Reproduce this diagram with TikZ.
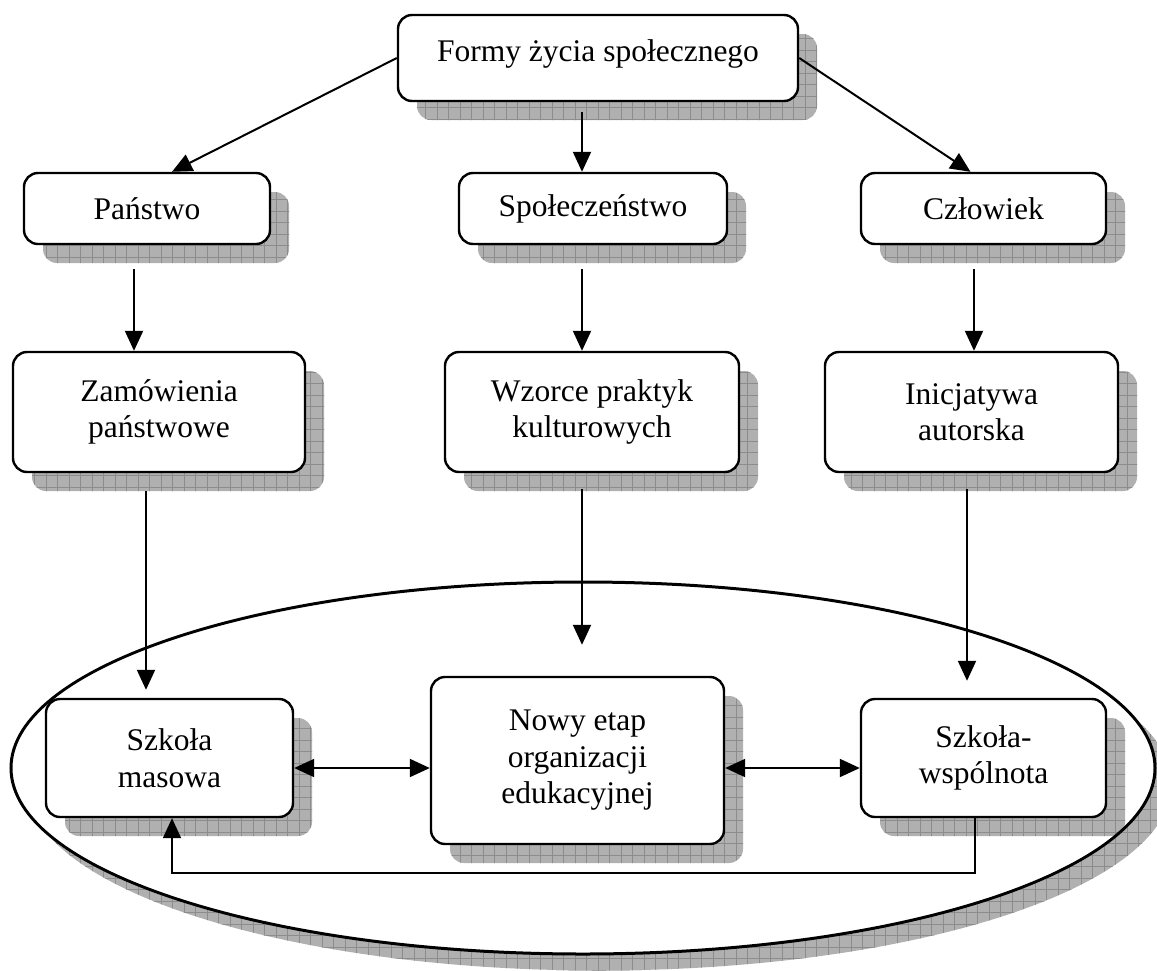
\documentclass[tikz,border=0pt]{standalone}
\usepackage{fontspec}
\setmainfont{Liberation Serif}
\usepackage{tikz}
\usetikzlibrary{shapes.geometric,arrows.meta,positioning}
\usetikzlibrary{shadows,patterns}

\pgfdeclarepatternformonly{kratka}{\pgfqpoint{-1pt}{-1pt}}{\pgfqpoint{13pt}{13pt}}{\pgfqpoint{11.5pt}{11.5pt}}{%
  \pgfsetlinewidth{0.8pt}
  \pgfpathmoveto{\pgfqpoint{0pt}{0pt}}\pgfpathlineto{\pgfqpoint{11.6pt}{0pt}}
  \pgfpathmoveto{\pgfqpoint{0pt}{0pt}}\pgfpathlineto{\pgfqpoint{0pt}{11.6pt}}
  \pgfusepath{stroke}}

\tikzset{
  cien/.style={drop shadow={shadow xshift=#1, shadow yshift=-#1, opacity=1, fill=gray!62},
               drop shadow={shadow xshift=#1, shadow yshift=-#1, opacity=1, pattern=kratka, pattern color=gray!90}},
  blok/.style={draw, line width=2.4pt, rounded corners=14pt, fill=white, inner sep=0pt,
               font=\fontsize{31.5}{36.5}\selectfont, align=center, cien=19pt},
  strzalka/.style={->, line width=2pt},
}

\begin{document}
\begin{tikzpicture}[x=1pt, y=-1pt, >={Triangle[length=20pt,width=18pt]}]
				\useasboundingbox (0,0) rectangle (1157,970);
				% ellipse (shadow and white inside)
				\node[ellipse, draw, line width=2pt, fill=white, minimum width=1145pt, minimum height=373pt, cien=16pt] (elipsa) at (583,768) {};
				% boxes
				\node[blok, text height=46pt, text depth=40pt, minimum width=400pt, anchor=base] (formy) at (598,61) {Formy życia społecznego};
				\node[blok, minimum width=246pt, minimum height=71pt] (panstwo) at (147,208.5) {Państwo};
				\node[blok, minimum width=268pt, minimum height=71pt] (spol) at (593,208.5) {Społeczeństwo};
				\node[blok, minimum width=245pt, minimum height=71pt] (czlowiek) at (983.5,208.5) {Człowiek};
				\node[blok, minimum width=292pt, minimum height=120pt] (zamow) at (159,412) {Zamówienia\\państwowe};
				\node[blok, minimum width=294pt, minimum height=120pt] (wzorce) at (592,412) {Wzorce praktyk\\kulturowych};
				\node[blok, minimum width=293pt, minimum height=120pt] (inicj) at (971.5,412) {Inicjatywa\\autorska};
				\node[blok, minimum width=247pt, minimum height=118pt] (masowa) at (169.5,758) {Szkoła\\masowa};
				\node[blok, minimum width=293pt, minimum height=167pt] (etap) at (577.5,760.5) {Nowy etap\\organizacji\\edukacyjnej};
				\node[blok, minimum width=245pt, minimum height=118pt] (wspol) at (983.5,758) {Szkoła-\\wspólnota};
				% ellipse outline on top of the shadows
				\draw[line width=2pt] (elipsa.center) ellipse [x radius=571.5, y radius=185.5];
				% arrows
				\draw [strzalka] (formy.west) -- ([shift={(25,0)}]panstwo.north);
				\draw [strzalka] ([shift={(-16,10)}]formy.south) -- ([shift={(-11,0)}]spol.north);
				\draw [strzalka] (formy.east) -- ([shift={(-13,0)}]czlowiek.north);
				\draw [strzalka] ([shift={(-13,24)}]panstwo.south) -- ([shift={(-25,0)}]zamow.north);
				\draw [strzalka] ([shift={(-11,24)}]spol.south) -- ([shift={(-10,0)}]wzorce.north);
				\draw [strzalka] ([shift={(-9.5,24)}]czlowiek.south) -- ([shift={(2.5,0)}]inicj.north);
				\draw [strzalka] ([shift={(-13,18)}]zamow.south) -- ([shift={(-23.5,-8)}]masowa.north);
				\draw [strzalka] ([shift={(-10,16)}]wzorce.south) -- ([shift={(4.5,-31)}]etap.north);
				\draw [strzalka] ([shift={(-4.5,16)}]inicj.south) -- ([shift={(-16.5,-17)}]wspol.north);
				\draw [strzalka, <->] ([shift={(0,10)}]masowa.east) -- ([shift={(0,7.5)}]etap.west);
				\draw [strzalka, <->] ([shift={(0,7.5)}]etap.east) -- ([shift={(0,10)}]wspol.west);
				\draw [strzalka] ([shift={(-8.5,0)}]wspol.south) -- ++(0,55) -| ([shift={(2.5,0)}]masowa.south);
\end{tikzpicture}
\end{document}
